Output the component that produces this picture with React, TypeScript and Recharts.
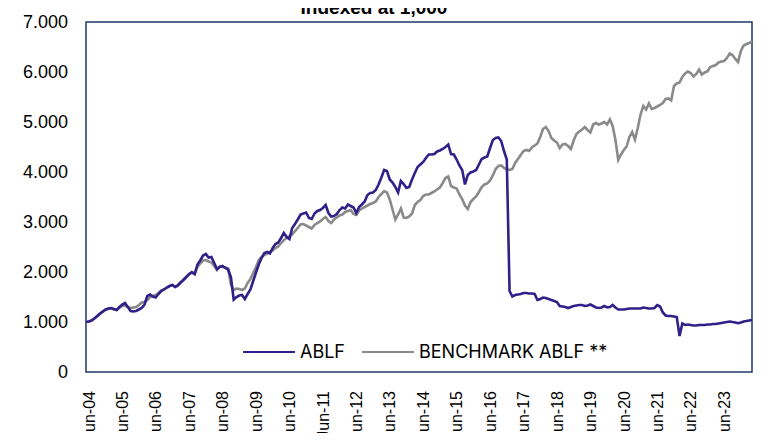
import React from "react";
import { LineChart, Line, XAxis, YAxis, ReferenceArea, Legend } from "recharts";

const TITLE = "Indexed at 1,000";
const SERIES_NAMES = ["ABLF", "BENCHMARK ABLF **"];
const SERIES_COLORS = ["#32208a", "#8a8a8a"];

// monthly values, Jun-04 .. May-24
const ABLF = [
  1000, 1010, 1030, 1070, 1120, 1170, 1210, 1250, 1270, 1280, 1260, 1240,
  1300, 1350, 1380, 1300, 1220, 1210, 1220, 1250, 1280, 1350, 1520, 1550,
  1510, 1490, 1560, 1620, 1650, 1690, 1720, 1740, 1700, 1730, 1790, 1840,
  1900, 1960, 2000, 1960, 2150, 2230, 2330, 2360, 2290, 2300, 2180, 2060,
  2100, 2120, 2080, 2050, 1900, 1450, 1500, 1530, 1540, 1460, 1560, 1650,
  1820, 1990, 2150, 2280, 2380, 2400, 2370, 2480, 2560, 2590, 2680, 2780,
  2700, 2660, 2880, 2960, 3050, 3150, 3170, 3190, 3080, 3060, 3170, 3220,
  3240, 3280, 3340, 3180, 3110, 3120, 3160, 3240, 3290, 3270, 3350, 3320,
  3290, 3180, 3300, 3350, 3410, 3540, 3580, 3590, 3640, 3750, 3890, 4040,
  4020, 3850, 3790, 3700, 3590, 3820, 3760, 3680, 3700, 3850, 3980, 4100,
  4150, 4200, 4280, 4350, 4350, 4360, 4410, 4430, 4460, 4500, 4550, 4360,
  4350, 4250, 4130, 4040, 3750, 3940, 3990, 4010, 4040, 4150, 4260, 4290,
  4310, 4480, 4640, 4680, 4690, 4620, 4420, 4250, 1620, 1510, 1540, 1550,
  1560, 1580, 1580, 1570, 1570, 1560, 1440, 1460, 1490, 1480, 1460, 1440,
  1420, 1400, 1320, 1310, 1300, 1280, 1300, 1320, 1330, 1340, 1340, 1320,
  1330, 1350, 1320, 1290, 1280, 1290, 1320, 1290, 1300, 1340, 1290, 1250,
  1250, 1250, 1260, 1270, 1270, 1270, 1270, 1270, 1290, 1280, 1270, 1270,
  1280, 1340, 1310, 1190, 1130, 1120, 1120, 1110, 1100, 720, 970, 940,
  950, 940, 930, 930, 940, 940, 940, 950, 950, 960, 960, 970,
  980, 990, 1000, 1010, 1000, 990, 975, 990, 1010, 1020, 1030, 1040,
];

const BENCHMARK = [
  1000, 1010, 1030, 1070, 1110, 1160, 1200, 1240, 1260, 1270, 1250, 1240,
  1290, 1320, 1330, 1300, 1280, 1290, 1300, 1340, 1390, 1400, 1440, 1500,
  1520, 1540, 1580, 1630, 1650, 1690, 1720, 1740, 1700, 1740, 1800, 1850,
  1900, 1950, 1990, 1960, 2100, 2170, 2230, 2240, 2210, 2190, 2120, 2040,
  2110, 2100, 2090, 2070, 1750, 1640, 1670, 1660, 1640, 1670, 1780, 1860,
  1980, 2100, 2240, 2300, 2340, 2370, 2400, 2430, 2480, 2510, 2580, 2640,
  2680, 2720, 2750, 2820, 2880, 2950, 2960, 2930, 2900, 2870, 2940, 2980,
  3010, 3060, 3100, 3020, 2980, 3050, 3090, 3130, 3150, 3200, 3220, 3240,
  3160, 3140, 3230, 3270, 3300, 3330, 3360, 3380, 3410, 3500, 3560, 3620,
  3590, 3450, 3250, 3050, 3150, 3270, 3090, 3080, 3110, 3170, 3340, 3400,
  3440, 3520, 3550, 3550, 3580, 3610, 3650, 3690, 3780, 3880, 3910, 3720,
  3690, 3670, 3550, 3460, 3330, 3260, 3400, 3460, 3510, 3600, 3700, 3750,
  3770, 3830, 3930, 4060, 4120, 4130, 4080, 4050, 4040, 4060, 4180, 4260,
  4340, 4420, 4440, 4420, 4490, 4530, 4570, 4700, 4860, 4900, 4820, 4680,
  4630, 4590, 4480, 4550, 4560, 4520, 4460, 4630, 4760, 4810, 4850, 4900,
  4840, 4790, 4950, 4980, 4950, 4970, 5000, 4950, 5050, 4920, 4640, 4240,
  4350, 4440, 4510, 4700, 4800, 4650, 4880, 5150, 5320, 5250, 5370, 5260,
  5280, 5310, 5340, 5380, 5460, 5470, 5430, 5720, 5770, 5790, 5900, 5970,
  6010, 5980, 5910, 5960, 6050, 5950, 5990, 6010, 6100, 6120, 6140, 6190,
  6210, 6220, 6280, 6370, 6340, 6260, 6200, 6420, 6530, 6560, 6580, 6610,
];

const X_TICK_LABELS = [
  "Jun-04", "Jun-05", "Jun-06", "Jun-07", "Jun-08", "Jun-09", "Jun-10",
  "Jun-11", "Jun-12", "Jun-13", "Jun-14", "Jun-15", "Jun-16", "Jun-17",
  "Jun-18", "Jun-19", "Jun-20", "Jun-21", "Jun-22", "Jun-23",
];
const Y_TICKS = [0, 1000, 2000, 3000, 4000, 5000, 6000, 7000];
const Y_TICK_LABELS = ["0", "1.000", "2.000", "3.000", "4.000", "5.000", "6.000", "7.000"];

const data = ABLF.map((v, i) => ({ m: i, ablf: v, bench: BENCHMARK[i] }));
const xTicks = X_TICK_LABELS.map((_, k) => k * 12);
const LAST = ABLF.length - 1;

const TICK_FONT = "'Liberation Sans', Arial, sans-serif";

const XTick = (props: any) => {
  const { x, y, payload } = props;
  const label = X_TICK_LABELS[Math.round(payload.value / 12)];
  return (
    <g transform={`translate(${x + 3},${y + 11})`}>
      <text
        transform="rotate(-90)"
        textAnchor="end"
        dominantBaseline="central"
        fontFamily={TICK_FONT}
        fontSize={16}
        fill="#000"
      >
        {label}
      </text>
    </g>
  );
};

const YTick = (props: any) => {
  const { x, y, payload } = props;
  const idx = Y_TICKS.indexOf(payload.value);
  return (
    <text
      x={x}
      y={y}
      textAnchor="end"
      dominantBaseline="central"
      fontFamily={TICK_FONT}
      fontSize={18}
      fill="#000"
    >
      {Y_TICK_LABELS[idx]}
    </text>
  );
};

const LegendContent = () => (
  <div
    style={{
      display: "flex",
      alignItems: "center",
      fontFamily: "Inter, 'Noto Sans', sans-serif",
      fontSize: 18,
      color: "#000",
      whiteSpace: "nowrap",
      lineHeight: "24px",
    }}
  >
    {SERIES_NAMES.map((name, k) => (
      <div key={name} style={{ display: "flex", alignItems: "center", marginRight: k === 0 ? 17 : 0 }}>
        <div style={{ width: 52, height: 2.5, background: SERIES_COLORS[k], marginRight: 5 }} />
        <span>{name}</span>
      </div>
    ))}
  </div>
);

export default function App() {
  return (
    <div style={{ margin: -8, position: "relative", width: 762, height: 441, overflow: "hidden", background: "#fff" }}>
      <svg
        width={762}
        height={30}
        style={{ position: "absolute", left: 0, top: 0, zIndex: 2, pointerEvents: "none" }}
      >
        <text
          x={374}
          y={14}
          textAnchor="middle"
          fontFamily={TICK_FONT}
          fontWeight={700}
          fontSize={19}
          fill="#000"
        >
          {TITLE}
        </text>
      </svg>
      <LineChart
        width={762}
        height={441}
        data={data}
        margin={{ top: 22, right: 10, bottom: 0, left: 0 }}
      >
        <XAxis
          dataKey="m"
          type="number"
          domain={[0, LAST]}
          ticks={xTicks}
          interval={0}
          tick={<XTick />}
          tickLine={false}
          axisLine={false}
          height={69}
        />
        <YAxis
          type="number"
          domain={[0, 7000]}
          ticks={Y_TICKS}
          interval={0}
          tick={<YTick />}
          tickLine={false}
          axisLine={false}
          tickSize={6}
          tickMargin={12}
          width={86}
        />
        <ReferenceArea
          x1={0}
          x2={LAST}
          y1={0}
          y2={7000}
          fill="none"
          stroke="#1f3864"
          strokeWidth={1.5}
          fillOpacity={0}
        />
        <Line
          type="linear"
          dataKey="bench"
          name={SERIES_NAMES[1]}
          stroke={SERIES_COLORS[1]}
          strokeWidth={2.6}
          dot={false}
          isAnimationActive={false}
        />
        <Line
          type="linear"
          dataKey="ablf"
          name={SERIES_NAMES[0]}
          stroke={SERIES_COLORS[0]}
          strokeWidth={2.6}
          dot={false}
          isAnimationActive={false}
        />
        <Legend
          layout="horizontal"
          verticalAlign="middle"
          align="center"
          content={<LegendContent />}
          wrapperStyle={{ left: 243, top: 340, width: "auto", height: 24 }}
        />
      </LineChart>
    </div>
  );
}
